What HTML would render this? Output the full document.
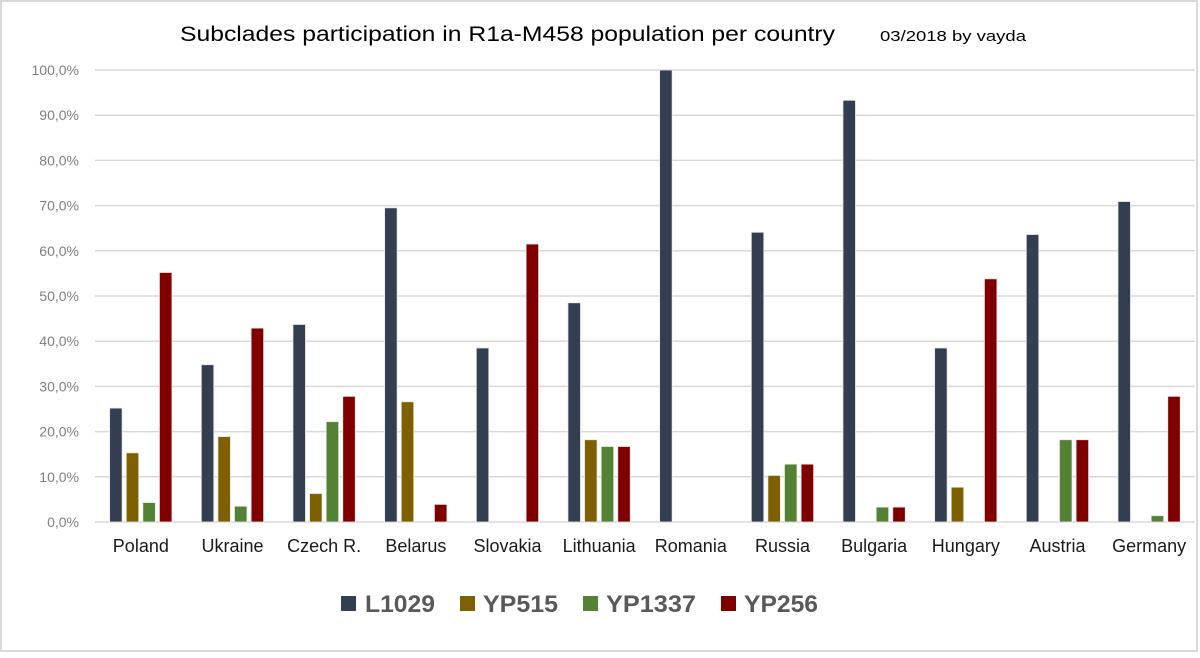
<!DOCTYPE html>
<html><head><meta charset="utf-8"><style>html,body{margin:0;padding:0;background:#fff}</style></head>
<body>
<svg width="1200" height="653" xmlns="http://www.w3.org/2000/svg" font-family="Liberation Sans, sans-serif">
<rect x="1" y="1" width="1196" height="650" fill="#fff" stroke="#d9d9d9" stroke-width="2"/>
<text x="180" y="41" font-size="21" fill="#000" textLength="655" lengthAdjust="spacingAndGlyphs">Subclades participation in R1a-M458 population per country</text>
<text x="880" y="41" font-size="15" fill="#000" textLength="146" lengthAdjust="spacingAndGlyphs">03/2018 by vayda</text>
<g id="grid" stroke="#d9d9d9" stroke-width="1.5"></g>
<g id="ylab" font-size="14" fill="#7f7f7f" text-anchor="end"></g>
<g id="bars" stroke="#e8e8e8" stroke-width="0.8"></g>
<g id="xlab" font-size="18" fill="#1a1a1a" text-anchor="middle"></g>
<g font-size="24" font-weight="bold" fill="#595959">
<rect x="341" y="596" width="15" height="15" fill="#333f50"/><text x="365" y="612" textLength="70" lengthAdjust="spacingAndGlyphs">L1029</text>
<rect x="460" y="596" width="15" height="15" fill="#7f6000"/><text x="483" y="612" textLength="75" lengthAdjust="spacingAndGlyphs">YP515</text>
<rect x="583" y="596" width="15" height="15" fill="#548235"/><text x="606" y="612" textLength="90" lengthAdjust="spacingAndGlyphs">YP1337</text>
<rect x="721" y="596" width="15" height="15" fill="#800000"/><text x="744" y="612" textLength="74" lengthAdjust="spacingAndGlyphs">YP256</text>
</g>
</svg>
<script>
const ns="http://www.w3.org/2000/svg";
function el(p,t,a,txt){const e=document.createElementNS(ns,t);for(const k in a)e.setAttribute(k,a[k]);if(txt)e.textContent=txt;document.getElementById(p).appendChild(e);}
const y0=522,k=4.52;
for(let i=0;i<=10;i++){const y=y0-i*10*k;el('grid','line',{x1:95,x2:1195,y1:y,y2:y});el('ylab','text',{x:79,y:y+5},(i*10)+',0%');}
const names=["Poland","Ukraine","Czech R.","Belarus","Slovakia","Lithuania","Romania","Russia","Bulgaria","Hungary","Austria","Germany"];
const d=[[25.2,15.3,4.3,55.2],[34.8,18.9,3.5,42.9],[43.7,6.3,22.2,27.8],[69.5,26.6,0,3.9],[38.5,0,0,61.5],[48.5,18.2,16.7,16.7],[100,0,0,0],[64.1,10.3,12.8,12.8],[93.3,0,3.3,3.3],[38.5,7.7,0,53.8],[63.6,0,18.2,18.2],[70.9,0,1.4,27.8]];
const col=["#333f50","#7f6000","#548235","#800000"];
const gw=1100/12;
names.forEach((n,g)=>{const c=95+gw*(g+0.5);
 d[g].forEach((v,i)=>{if(v<=0)return;const h=v*k;el('bars','rect',{x:c-31.2+16.6*i,y:y0-h,width:12.5,height:h,fill:col[i]});});
 el('xlab','text',{x:c,y:552},n);});
</script>
</body></html>
